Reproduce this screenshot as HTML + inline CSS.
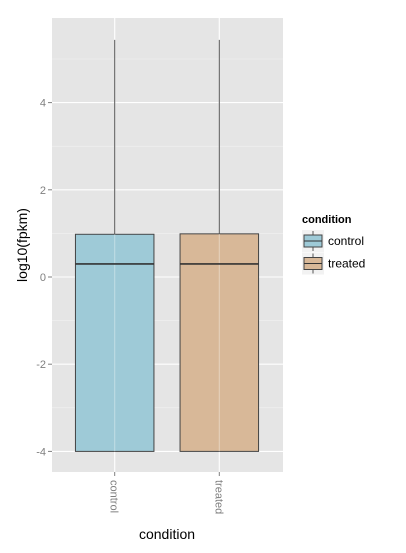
<!DOCTYPE html>
<html><head><meta charset="utf-8"><style>
body{margin:0;background:#fff}
svg{display:block;font-family:"Liberation Sans",sans-serif}
</style></head><body>
<svg width="406" height="553" viewBox="0 0 406 553">
<g id="plot"></g>
</svg>
<script>
const categories=["control","treated"];
const lowerWhisker=[-4,-4];
const q1=[-4,-4];
const medians=[0.3,0.3];
const q3=[0.98,0.99];
const upperWhisker=[5.44,5.44];
const yTicks=[-4,-2,0,2,4];
const fills=["#9ecad7","#d8b898"];

const NS="http://www.w3.org/2000/svg";
const g=document.getElementById('plot');
function el(t,a,p){const e=document.createElementNS(NS,t);for(const k in a)e.setAttribute(k,a[k]);(p||g).appendChild(e);return e;}
const PL=52,PR=283,PT=18,PB=472;
const y=v=>277-43.6*v;
const xc=i=>114.7+i*104.6;
const bw=78.5;

const panel=el('rect',{x:PL,y:PT,width:PR-PL,height:PB-PT,fill:'#e5e5e5'});


for(let i=0;i<yTicks.length-1;i++){const v=(yTicks[i]+yTicks[i+1])/2;
 const l=el('line',{x1:PL,x2:PR,y1:y(v),y2:y(v),stroke:'#f2f2f2','stroke-width':0.6});
 
 }
{const v=yTicks[yTicks.length-1]+1;const l=el('line',{x1:PL,x2:PR,y1:y(v),y2:y(v),stroke:'#f2f2f2','stroke-width':0.6});
 
 }
yTicks.forEach(v=>{
 const l=el('line',{x1:PL,x2:PR,y1:y(v),y2:y(v),stroke:'#fff','stroke-width':1.1});
 
 
 const t=el('line',{x1:PL-4,x2:PL,y1:y(v),y2:y(v),stroke:'#7f7f7f','stroke-width':1});
 
 
 const tx=el('text',{x:PL-6,y:y(v)+4,'text-anchor':'end','font-size':11,fill:'#7f7f7f'});
 tx.textContent=String(v);
 
 
});
categories.forEach((c,i)=>{
 const x=xc(i);
 const gl=el('line',{x1:x,x2:x,y1:PT,y2:PB,stroke:'#fff','stroke-width':1.1});
 
 
 const w=el('line',{x1:x,x2:x,y1:y(upperWhisker[i]),y2:y(q3[i]),stroke:'#555','stroke-width':1});
 
 
 const w2=el('line',{x1:x,x2:x,y1:y(q1[i]),y2:y(lowerWhisker[i]),stroke:'#555','stroke-width':1});
 
 
 const b=el('rect',{x:x-bw/2,y:y(q3[i]),width:bw,height:y(q1[i])-y(q3[i]),fill:fills[i],stroke:'#444','stroke-width':1});
 
 
 const gl2=el('line',{x1:x,x2:x,y1:y(q3[i]),y2:y(q1[i]),stroke:'#fff','stroke-opacity':0.35,'stroke-width':1.1});
 
 
 const m=el('line',{x1:x-bw/2,x2:x+bw/2,y1:y(medians[i]),y2:y(medians[i]),stroke:'#333','stroke-width':1.6});
 
 
 const tk=el('line',{x1:x,x2:x,y1:PB,y2:PB+4,stroke:'#7f7f7f','stroke-width':1});
 
 
 const tx=el('text',{x:0,y:0,'font-size':11,fill:'#7f7f7f',transform:`translate(${x-4},${PB+8}) rotate(90)`});
 tx.textContent=c;
 
 
});
const xt=el('text',{x:167,y:539,'text-anchor':'middle','font-size':14,fill:'#000'});
xt.textContent='condition';


const yt=el('text',{x:0,y:0,'text-anchor':'middle','font-size':14,fill:'#000',transform:'translate(27,245) rotate(-90)'});
yt.textContent='log10(fpkm)';


const lt=el('text',{x:302,y:223,'font-size':11,'font-weight':'bold',fill:'#000'});
lt.textContent='condition';


categories.forEach((c,i)=>{
 const ky=230+i*22.5;
 const bg=el('rect',{x:302,y:ky,width:22,height:22,fill:'#f2f2f2'});
 
 
 const ln=el('line',{x1:313,x2:313,y1:ky+1,y2:ky+21,stroke:'#555','stroke-width':1});
 
 
 const r=el('rect',{x:304,y:ky+5,width:18,height:12,fill:fills[i],stroke:'#444','stroke-width':1});
 
 
 const md=el('line',{x1:304,x2:322,y1:ky+11,y2:ky+11,stroke:'#333','stroke-width':1});
 
 
 const tx=el('text',{x:328,y:ky+15,'font-size':12,fill:'#000'});
 tx.textContent=c;
 
 
});
</script>
</body></html>
